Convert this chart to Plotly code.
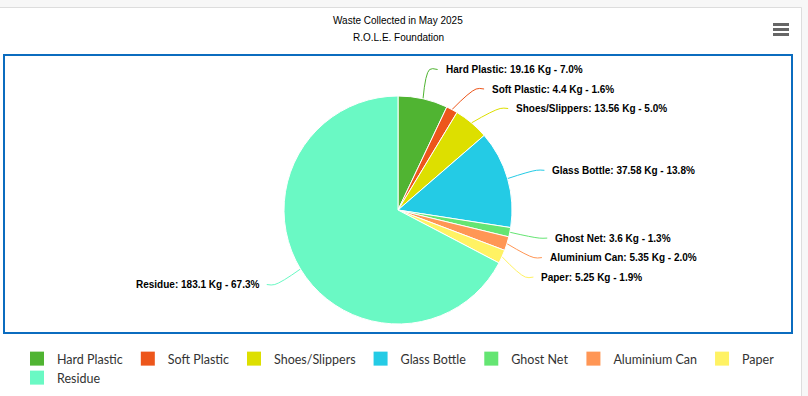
import math
import plotly.graph_objects as go

# ---- data ----
categories = ["Hard Plastic", "Soft Plastic", "Shoes/Slippers", "Glass Bottle",
              "Ghost Net", "Aluminium Can", "Paper", "Residue"]
weights_kg = [19.16, 4.4, 13.56, 37.58, 3.6, 5.35, 5.25, 183.1]
colors = ["#50B432", "#ED561B", "#DDDF00", "#24CBE5",
          "#64E572", "#FF9655", "#FFF263", "#6AF9C4"]
legend_row = [1, 1, 1, 1, 1, 1, 1, 2]
title_text = "Waste Collected in May 2025"
subtitle_text = "R.O.L.E. Foundation"

# ---- geometry (pixels) ----
W, H = 808, 396
CX, CY, R = 398, 210, 114
DIST = 30
R2 = R + DIST
SPACING = 19.5

total = sum(weights_kg)
labels_txt = [f"{c}: {w} Kg - {w / total * 100:.1f}%" for c, w in zip(categories, weights_kg)]

mids = []
cum = 0.0
for w in weights_kg:
    mids.append((cum + w / 2) / total * 2 * math.pi)
    cum += w

info = []
for i, th in enumerate(mids):
    side = 1 if math.sin(th) >= 0 else -1
    info.append({"i": i, "side": side, "y": CY - R2 * math.cos(th), "th": th})
for side in (1, -1):
    items = sorted([d for d in info if d["side"] == side], key=lambda d: d["y"])
    prev = None
    for d in items:
        if prev is not None and d["y"] < prev + SPACING:
            d["y"] = prev + SPACING
        prev = d["y"]

fig = go.Figure()

annotations = []
for d in sorted(info, key=lambda d: d["i"]):
    i, th, side, ly = d["i"], d["th"], d["side"], d["y"]
    dy = ly - CY
    dx = math.sqrt(max(R2 * R2 - dy * dy, 0))
    x1 = CX + side * dx
    ex, ey = CX + R * math.sin(th), CY - R * math.cos(th)
    fig.add_trace(go.Scatter(
        x=[ex, x1, x1 + side * 8], y=[ey, ly, ly], mode="lines",
        line=dict(color=colors[i], width=1, shape="spline"),
        hoverinfo="skip", showlegend=False, xaxis="x", yaxis="y"))
    annotations.append(dict(
        x=x1 + side * 14, y=ly, xref="x", yref="y", text=f"<b>{labels_txt[i]}</b>",
        showarrow=False, xanchor="left" if side > 0 else "right", yanchor="middle",
        font=dict(family="Liberation Sans, Arial", size=10, color="#000000")))

fig.add_trace(go.Pie(
    labels=categories, values=weights_kg, sort=False, direction="clockwise",
    rotation=0, marker=dict(colors=colors, line=dict(color="#ffffff", width=1)),
    textinfo="none", hoverinfo="label+value+percent",
    domain=dict(x=[(CX - R) / W, (CX + R) / W], y=[1 - (CY + R) / H, 1 - (CY - R) / H]),
    showlegend=False))

for c, col, row in zip(categories, colors, legend_row):
    fig.add_trace(go.Scatter(
        x=[None], y=[None], mode="markers", name=c,
        marker=dict(symbol="square", size=14, color=col),
        legend="legend" if row == 1 else "legend2", showlegend=True))

annotations += [
    dict(x=398, y=20, xref="x", yref="y", text=title_text, showarrow=False,
         font=dict(family="Liberation Sans, Arial", size=10, color="#000000")),
    dict(x=398, y=37, xref="x", yref="y", text=subtitle_text, showarrow=False,
         font=dict(family="Liberation Sans, Arial", size=10, color="#000000")),
]

shapes = [
    dict(type="rect", xref="x", yref="y", x0=-5, y0=7.5, x1=801.5, y1=400,
         fillcolor="#ffffff", line=dict(color="#dddddd", width=1), layer="below"),
    dict(type="rect", xref="x", yref="y", x0=4, y0=55, x1=792, y1=333,
         fillcolor="rgba(0,0,0,0)", line=dict(color="#0b6cbf", width=2), layer="below"),
]
for yy in (24.5, 29.5, 34.5):
    shapes.append(dict(type="line", xref="x", yref="y", x0=773, x1=789, y0=yy, y1=yy,
                       line=dict(color="#666666", width=3)))

legend_font = dict(family="Lato, Open Sans", size=12.5, color="#333333")
fig.update_layout(
    width=W, height=H, margin=dict(l=0, r=0, t=0, b=0),
    paper_bgcolor="#f7f7f7", plot_bgcolor="rgba(0,0,0,0)",
    xaxis=dict(range=[0, W], visible=False, fixedrange=True, domain=[0, 1]),
    yaxis=dict(range=[H, 0], visible=False, fixedrange=True, domain=[0, 1]),
    annotations=annotations, shapes=shapes,
    legend=dict(orientation="h", x=17 / W, y=1 - 359 / H, xanchor="left", yanchor="middle",
                bgcolor="rgba(0,0,0,0)", font=legend_font,
                itemclick=False, itemdoubleclick=False),
    legend2=dict(orientation="h", x=17 / W, y=1 - 378 / H, xanchor="left", yanchor="middle",
                 bgcolor="rgba(0,0,0,0)", font=legend_font,
                 itemclick=False, itemdoubleclick=False),
)

fig.write_html("out.html", config={"displayModeBar": False},
               post_script="document.body.style.margin='0';")
